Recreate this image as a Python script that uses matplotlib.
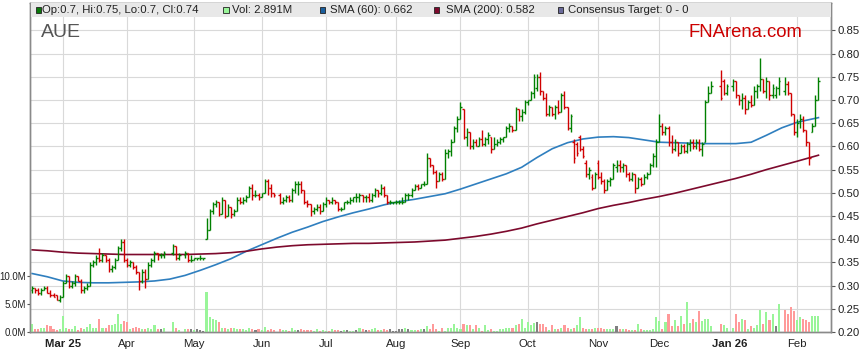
import numpy as np
import pandas as pd
import matplotlib
matplotlib.use("Agg")
import matplotlib.pyplot as plt
from matplotlib.patches import Rectangle
from matplotlib.collections import LineCollection

plt.rcParams['font.family'] = ['Liberation Sans', 'DejaVu Sans']

# ---------------- data ----------------
start_date = '2025-02-17'
end_date = '2026-02-11'
holidays = ['2025-04-18', '2025-04-21', '2025-04-25', '2025-06-09',
            '2025-12-25', '2025-12-26', '2026-01-01', '2026-01-26']

opens = [
    .29, .295, .29, .285, .29, .295, .285, .28, .28, .27,
    .275, .305, .32, .30, .305, .32, .31, .29, .295, .30, .345, .35, .36, .355, .365, .355, .335, .34, .355, .38, .395,
    .355, .345, .35, .34, .33, .31, .33, .315, .345, .355, .37, .365, .365, .37, .385, .36, .365, .37, .355,
    .355, .36, .36, .36, .40, .42, .46, .475, .48, .455, .485, .45, .47, .455, .46, .485, .48, .485, .49, .51, .495, .495,
    .49, .50, .525, .51, .50, .495, .48, .485, .49, .485, .505, .52, .52, .505, .48, .475, .46, .465, .47, .46,
    .475, .485, .48, .485, .48, .465, .465, .48, .48, .485, .49, .49, .495, .49, .49, .485, .495, .505, .50, .51, .495, .48, .48,
    .48, .48, .48, .48, .495, .495, .505, .515, .51, .52, .52, .575, .56, .545, .525, .54, .53, .585, .59, .61, .64,
    .66, .68, .62, .63, .60, .61, .60, .615, .605, .615, .62, .595, .605, .61, .615, .62, .64, .645, .635, .68, .665, .675,
    .695, .70, .715, .725, .75, .72, .705, .67, .685, .67, .685, .675, .71, .685, .64, .61, .605, .62, .595, .565, .54, .535, .51,
    .565, .535, .525, .505, .525, .53, .555, .56, .555, .56, .54, .53, .54, .51, .53, .52, .535, .54, .56, .58,
    .61, .645, .63, .64, .61, .595, .61, .585, .60, .59, .605, .61, .60, .61, .595, .61, .695, .715, .73, .74, .715,
    .73, .74, .71, .70, .705, .68, .695, .69, .72, .73, .745, .72, .74, .71, .71, .725, .72, .735, .715, .67,
    .63, .655, .66, .635, .61, .63, .645, .70]

highs = [
    .30, .295, .295, .295, .30, .30, .29, .285, .28, .28,
    .31, .325, .32, .31, .325, .32, .315, .30, .305, .35, .355, .365, .38, .37, .365, .36, .345, .36, .385, .40, .40,
    .36, .355, .35, .345, .33, .335, .335, .35, .36, .375, .37, .37, .375, .39, .385, .37, .375, .37, .365,
    .36, .36, .365, .36, .445, .465, .48, .485, .48, .49, .485, .475, .47, .465, .49, .49, .49, .495, .515, .52, .505, .50,
    .50, .53, .53, .52, .50, .50, .49, .495, .495, .51, .525, .525, .525, .505, .485, .475, .47, .475, .475, .48,
    .49, .485, .49, .485, .48, .47, .48, .485, .49, .49, .50, .50, .495, .495, .50, .50, .51, .505, .52, .515, .495, .485, .48,
    .485, .485, .49, .50, .50, .51, .52, .52, .52, .525, .585, .575, .56, .55, .545, .545, .595, .595, .615, .645, .665,
    .695, .68, .64, .63, .615, .615, .62, .635, .62, .63, .62, .62, .615, .62, .62, .645, .65, .645, .685, .68, .68, .70,
    .70, .72, .755, .755, .76, .72, .715, .69, .685, .69, .70, .715, .72, .685, .67, .615, .61, .625, .60, .57, .555, .54, .545,
    .57, .545, .53, .53, .535, .565, .57, .57, .565, .56, .545, .545, .54, .535, .535, .54, .545, .565, .585, .615,
    .67, .65, .645, .645, .625, .615, .61, .605, .605, .61, .615, .615, .615, .615, .61, .70, .73, .74, .765, .745, .735,
    .745, .74, .71, .715, .71, .70, .71, .73, .735, .79, .745, .75, .74, .735, .73, .75, .75, .74, .715, .67,
    .66, .67, .665, .635, .61, .65, .71, .75]

lows = [
    .285, .285, .28, .28, .29, .285, .275, .275, .27, .265,
    .275, .305, .295, .295, .30, .31, .285, .285, .29, .30, .34, .345, .35, .35, .35, .33, .33, .335, .355, .375, .35,
    .34, .34, .335, .325, .29, .305, .295, .315, .34, .35, .355, .36, .36, .365, .355, .355, .36, .35, .35,
    .355, .355, .355, .355, .40, .42, .455, .47, .45, .455, .445, .45, .445, .45, .46, .475, .475, .48, .49, .485, .49, .485,
    .49, .50, .495, .49, .49, .475, .475, .48, .48, .48, .50, .495, .50, .475, .47, .45, .455, .46, .455, .46,
    .47, .475, .475, .475, .46, .46, .465, .475, .475, .48, .48, .48, .48, .48, .48, .48, .49, .49, .495, .49, .475, .475, .475,
    .475, .475, .475, .48, .485, .49, .505, .505, .51, .515, .52, .555, .54, .51, .525, .525, .53, .575, .58, .61, .63,
    .66, .615, .60, .595, .595, .60, .60, .60, .60, .605, .585, .595, .60, .605, .61, .62, .63, .63, .635, .655, .655, .67,
    .69, .70, .705, .72, .71, .70, .665, .665, .665, .66, .67, .675, .68, .635, .63, .565, .58, .59, .575, .535, .53, .505, .51,
    .53, .52, .50, .505, .515, .53, .545, .545, .545, .535, .525, .525, .50, .51, .515, .52, .53, .54, .555, .555,
    .61, .625, .625, .60, .585, .59, .58, .585, .585, .585, .59, .595, .595, .59, .58, .61, .695, .715, .70, .71, .71,
    .72, .705, .69, .68, .67, .68, .685, .69, .705, .72, .715, .705, .70, .705, .705, .71, .71, .71, .665, .625,
    .62, .64, .63, .60, .56, .63, .645, .70]

closes = [
    .295, .29, .285, .29, .295, .285, .28, .275, .27, .275,
    .305, .32, .30, .305, .32, .31, .29, .295, .30, .345, .35, .36, .355, .365, .355, .335, .34, .355, .38, .395, .355,
    .345, .35, .34, .33, .31, .33, .315, .345, .355, .37, .365, .365, .37, .385, .36, .365, .37, .355, .355,
    .36, .36, .36, .36, .42, .46, .475, .48, .455, .485, .45, .47, .455, .46, .485, .48, .485, .49, .51, .495, .495, .49,
    .50, .525, .51, .50, .495, .48, .485, .49, .485, .505, .52, .52, .505, .48, .475, .46, .465, .47, .46, .475,
    .485, .48, .485, .48, .465, .465, .48, .48, .485, .49, .49, .495, .49, .49, .485, .495, .505, .50, .51, .495, .48, .48, .48,
    .48, .48, .48, .495, .495, .505, .515, .51, .52, .52, .575, .56, .545, .525, .54, .53, .585, .59, .61, .64, .66,
    .685, .62, .63, .60, .61, .60, .615, .605, .615, .625, .595, .605, .61, .615, .62, .64, .645, .635, .68, .665, .675, .695,
    .70, .715, .75, .75, .72, .705, .67, .685, .67, .685, .675, .71, .685, .64, .665, .575, .585, .595, .58, .54, .55, .51, .54,
    .535, .525, .505, .525, .53, .56, .56, .555, .56, .54, .53, .54, .51, .53, .52, .535, .54, .56, .58, .61,
    .645, .63, .64, .61, .595, .61, .585, .60, .59, .605, .61, .60, .61, .595, .605, .695, .715, .73, .705, .715, .73,
    .74, .71, .70, .705, .68, .695, .69, .72, .73, .745, .72, .74, .71, .725, .725, .74, .735, .715, .67, .63,
    .65, .66, .635, .61, .575, .645, .70, .74]

volumes_m = [
    1.4, .5, .6, .7, .7, 1.2, 1.0, .5, .3, .6,
    2.9, .8, .6, .6, 1.1, .4, .7, .6, .9, 1.4, .7, .8, 2.4, .8, .8, 1.3, 1.3, 1.4, 3.3, 1.5, 1.9,
    1.8, .6, .7, .9, .8, .6, .6, .7, .5, 1.3, .5, .5, .8, 1.8, .8, .4, .6, .6, .6,
    .3, .6, .3, .2, 7.1, 2.6, 2.4, 2.1, 1.8, .8, .8, .6, .7, .8, .6, .6, .5, .4, .8, .5, .3, .6,
    .4, .9, .3, .5, .3, .6, .4, .3, .2, .8, .3, .4, .6, .3, .4, .3, .2, .5, .2, .3,
    .2, .2, .5, .4, .3, .2, .4, .3, .2, .2, .3, .8, .5, .4, .3, .6, .8, .3, .4, .6, .3, .5, .2,
    .1, .5, .5, .7, .5, .4, .3, .4, .6, .5, 1.1, .5, 1.4, .5, .2, .8, .2, .7, .7, 1.4, .8,
    .5, 1.5, 1.3, 1.3, .5, 1.3, .8, .2, 1.3, .3, .5, .2, .2, .6, .6, .8, .7, .7, 1.2, 1.5, 2.4, .8,
    1.7, 1.3, 1.6, 1.8, 1.5, 1.5, .9, .3, 1.3, .6, .6, .7, 1.2, .7, .6, .7, 1.3, 2.6, .7, .6, .5, .5, .8,
    .65, .65, .5, .6, .5, .6, 1.1, .5, .5, .5, .4, .4, .4, 1.5, .5, .4, .4, .4, .5, 2.6,
    1.9, .5, 1.8, 3.3, 1.0, 2.1, 1.1, 2.9, 1.5, 5.4, 1.6, 2.3, 1.8, 3.75, 1.9, 2.4, 2.3, 1.1, 1.4, 1.3, .8,
    .8, 3.2, 1.8, 2.4, 2.1, .5, 1.1, .8, 1.25, 3.9, 1.4, 3.6, 2.1, 3.2, 1.1, 5.0, 3.9, 3.2, 4.4, 3.8,
    2.1, 2.6, 2.3, 2.1, 1.7, 2.8, 2.8, 2.891]

# moving averages read weekly (Mondays from 2025-02-17, then the last day)
sma60 = [.326, .319, .310, .307, .306, .306, .307, .308, .310, .314, .322, .333, .345, .358, .374,
         .388, .402, .415, .426, .438, .448, .457, .465, .474, .481, .486, .492, .498, .508, .519,
         .530, .541, .555, .576, .595, .608, .616, .620, .621, .619, .614, .609, .608, .607, .606,
         .606, .606, .609, .624, .640, .652, .662]
sma200 = [.377, .375, .372, .370, .369, .368, .367, .367, .367, .367, .367, .368, .369, .371, .374,
          .379, .383, .386, .388, .389, .390, .391, .391, .392, .393, .394, .396, .398, .402, .406,
          .411, .417, .424, .433, .441, .449, .457, .466, .473, .479, .486, .492, .499, .507, .515,
          .523, .531, .540, .550, .559, .568, .581]

month_labels = ['Mar 25', 'Apr', 'May', 'Jun', 'Jul', 'Aug', 'Sep', 'Oct', 'Nov', 'Dec', 'Jan 26', 'Feb']
month_starts = ['2025-03-03', '2025-04-01', '2025-05-01', '2025-06-02', '2025-07-01', '2025-08-01',
                '2025-09-01', '2025-10-01', '2025-11-03', '2025-12-01', '2026-01-01', '2026-02-02']
price_ticks = [0.20, 0.25, 0.30, 0.35, 0.40, 0.45, 0.50, 0.55, 0.60, 0.65, 0.70, 0.75, 0.80, 0.85]
vol_ticks = [0, 5, 10]
vol_tick_labels = ['0.0M', '5.0M', '10.0M']

legend_labels = ['Op:0.7, Hi:0.75, Lo:0.7, Cl:0.74', 'Vol: 2.891M', 'SMA (60): 0.662',
                 'SMA (200): 0.582', 'Consensus Target: 0 - 0']

# ---------------- positions ----------------
wd = pd.bdate_range(start_date, end_date)
trade_days = wd[~wd.isin(pd.to_datetime(holidays))]
n = len(trade_days)
for nm, arr in [('opens', opens), ('highs', highs), ('lows', lows), ('closes', closes), ('vol', volumes_m)]:
    if len(arr) != n:
        raise SystemExit(f'{nm} length {len(arr)} != {n}')


def wpos(dates):
    d = pd.to_datetime(dates).values.astype('datetime64[D]')
    return np.busday_count(np.datetime64(start_date), d)


x = wpos(trade_days)
sma_dates = list(pd.date_range(start_date, periods=51, freq='7D')) + [pd.Timestamp(end_date)]
xs = wpos(sma_dates)
xm = wpos(month_starts)

# ---------------- figure ----------------
W, H = 859, 363
fig = plt.figure(figsize=(W / 100, H / 100), dpi=100)
L, R, T, B = 30, 831, 2.7, 332
ax = fig.add_axes([L / W, 1 - B / H, (R - L) / W, (B - T) / H])
axv = ax.twinx()

ax.set_xlim(-0.69, 261.1)
ymin = 0.20
ymax = 0.20 + (B - T) / 464.0
ax.set_ylim(ymin, ymax)
axv.set_ylim(0, (B - T) * 5.0 / 28.0)

grid_c = '#d9d9d9'
for p in price_ticks:
    ax.axhline(p, color=grid_c, lw=0.8, zorder=0)
for m in xm:
    ax.axvline(m, color=grid_c, lw=0.8, zorder=0)

up_c, dn_c = '#008000', '#d00000'
segs, cols = [], []
for xi, o, h, l, c in zip(x, opens, highs, lows, closes):
    col = up_c if c >= o else dn_c
    segs += [[(xi, l), (xi, h)], [(xi - 0.5, o), (xi, o)], [(xi, c), (xi + 0.5, c)]]
    cols += [col] * 3
ax.add_collection(LineCollection(segs, colors=cols, linewidths=1.0, capstyle='butt', zorder=3))

ax.plot(xs, sma60, color='#2f7fbf', lw=1.2, zorder=2)
ax.plot(xs, sma200, color='#7d0a2d', lw=1.2, zorder=2)

# volume colours by close change
vcols = []
prev = opens[0]
for c in closes:
    if c > prev:
        vcols.append('#99f599')
    elif c < prev:
        vcols.append('#ff9a9a')
    else:
        vcols.append('#808080')
    prev = c
axv.bar(x, volumes_m, width=0.68, color=vcols, zorder=2)

# axes styling
for a in (ax, axv):
    for s in a.spines.values():
        s.set_color('#8a8a8a')
        s.set_linewidth(1.0)
ax.yaxis.tick_right()
ax.set_yticks(price_ticks)
ax.set_yticklabels([f'{p:.2f}' for p in price_ticks])
ax.tick_params(axis='y', which='both', length=3, width=0.8, color='#555555', labelsize=8.2,
               pad=1.5, labelcolor='#222222', right=True, left=False, labelright=True, labelleft=False)
axv.yaxis.tick_left()
axv.set_yticks(vol_ticks)
axv.set_yticklabels(vol_tick_labels)
axv.tick_params(axis='y', length=2, width=0.8, color='#555555', labelsize=7.0, pad=0.6,
                labelcolor='#222222', left=True, right=False, labelleft=True, labelright=False)
ax.set_xticks(xm)
ax.set_xticklabels(month_labels)
ax.tick_params(axis='x', length=0, labelsize=8.2, pad=5, labelcolor='#222222')
for lbl in ax.get_xticklabels():
    if ' ' in lbl.get_text():
        lbl.set_fontweight('bold')

# ---------------- header band / legend ----------------
def fx(px):
    return px / W


def fy(py):
    return 1 - py / H


fig.add_artist(Rectangle((fx(L + 0.5), fy(16.7)), fx(R - L - 1), (16.7 - 3.3) / H,
                         transform=fig.transFigure, facecolor='#e8e8e8', edgecolor='none', zorder=5))
sq_cols = ['#0a7a0a', '#99f599', '#1a5e9c', '#7d0a2d', '#6a6a9a']
sq_x = [35.5, 223.5, 319.5, 433.5, 557.5]
tx_x = [42.5, 231.5, 330.5, 446.5, 568.5]
for col, sx, tx, lab in zip(sq_cols, sq_x, tx_x, legend_labels):
    fig.add_artist(Rectangle((fx(sx), fy(13.0)), 5.6 / W, 5.6 / H, transform=fig.transFigure,
                             facecolor=col, edgecolor='#222222', lw=0.6, zorder=6))
    fig.text(fx(tx), fy(10.2), lab, fontsize=8.2, color='#222222', va='center', ha='left', zorder=7)

fig.text(fx(41), fy(32.5), 'AUE', fontsize=14, color='#555555', va='center', ha='left', zorder=7)
fig.text(fx(689), fy(32.5), 'FNArena.com', fontsize=13.3, color='#cc0000', va='center', ha='left', zorder=7)

fig.savefig('out.png', dpi=100)
